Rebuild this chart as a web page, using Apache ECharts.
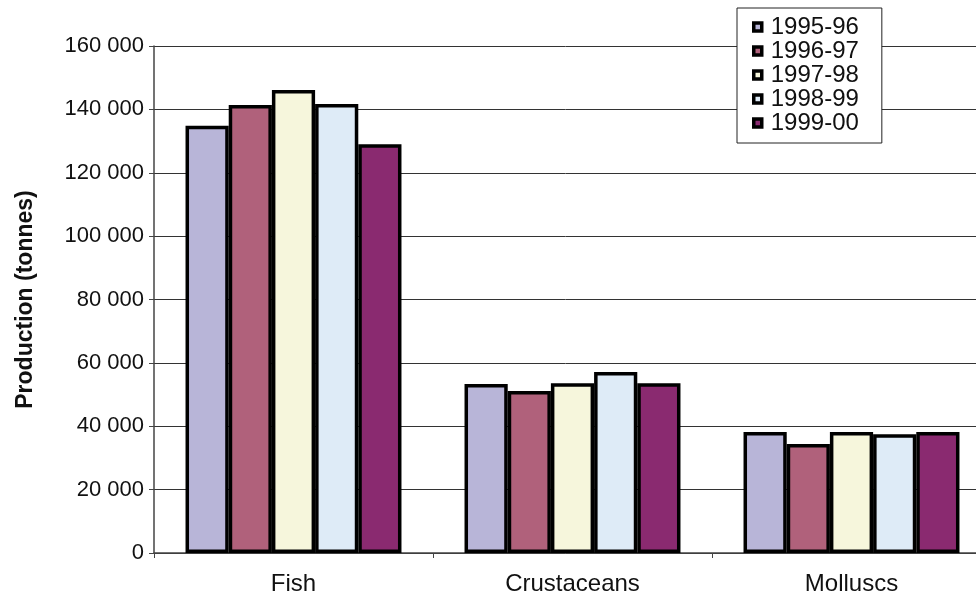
<!DOCTYPE html>
<html>
<head>
<meta charset="utf-8">
<script src="https://cdn.jsdelivr.net/npm/echarts@6/dist/echarts.min.js"></script>
<style>
  html, body { margin: 0; padding: 0; background: #fff; }
  #chart { width: 976px; height: 594px; }
</style>
</head>
<body>
<div id="chart"></div>
<script>
const categories = ['Fish', 'Crustaceans', 'Molluscs']
const seasons = ['1995-96', '1996-97', '1997-98', '1998-99', '1999-00']
const values = {
  '1995-96': [134800, 53300, 38200],
  '1996-97': [141400, 51100, 34400],
  '1997-98': [146100, 53600, 38200],
  '1998-99': [141700, 57100, 37500],
  '1999-00': [129000, 53600, 38200]
}
const colors = ['#b8b5d8', '#b0617b', '#f6f6dc', '#deebf7', '#8a2a70']

// thousands separated by a space, as in the source
const fmt = v => String(v).replace(/\B(?=(\d{3})+(?!\d))/g, ' ')

const chart = echarts.init(document.getElementById('chart'))
chart.setOption({
  animation: false,
  textStyle: { fontFamily: 'Liberation Sans, Arial, sans-serif' },
  grid: { left: 154, top: 46, bottom: 41, width: 837, outerBoundsMode: 'none', containLabel: false },
  legend: {
    orient: 'vertical',
    left: 737,
    top: 8,
    padding: [7, 23, 8, 15],
    backgroundColor: '#fff',
    borderColor: '#222',
    borderWidth: 1,
    itemGap: 0,
    itemWidth: 8,
    itemHeight: 8,
    icon: 'rect',
    itemStyle: { borderColor: '#000', borderWidth: 3.5 },
    textStyle: { fontSize: 24, lineHeight: 24, color: '#111', padding: [0, 0, 0, 4] },
    data: seasons
  },
  xAxis: {
    type: 'category',
    data: categories,
    axisLine: { lineStyle: { color: '#444', width: 1.5 } },
    axisTick: { show: true, length: 5, lineStyle: { color: '#444' } },
    axisLabel: { fontSize: 24, color: '#111', margin: 19 }
  },
  yAxis: {
    type: 'value',
    min: 0,
    max: 160000,
    interval: 20000,
    name: 'Production (tonnes)',
    nameLocation: 'middle',
    nameGap: 117,
    nameTextStyle: { fontSize: 23, fontWeight: 'bold', color: '#111' },
    axisLine: { show: true, lineStyle: { color: '#444', width: 1.5 } },
    axisTick: { show: true, length: 5, lineStyle: { color: '#444' } },
    axisLabel: { fontSize: 22, color: '#111', margin: 10, formatter: fmt },
    splitLine: { lineStyle: { color: '#333', width: 1 } }
  },
  series: seasons.map((s, i) => ({
    name: s,
    type: 'bar',
    data: values[s],
    barGap: '0%',
    barCategoryGap: '22.6%',
    itemStyle: { color: colors[i], borderColor: '#000', borderWidth: 3.5 }
  }))
})
</script>
</body>
</html>
